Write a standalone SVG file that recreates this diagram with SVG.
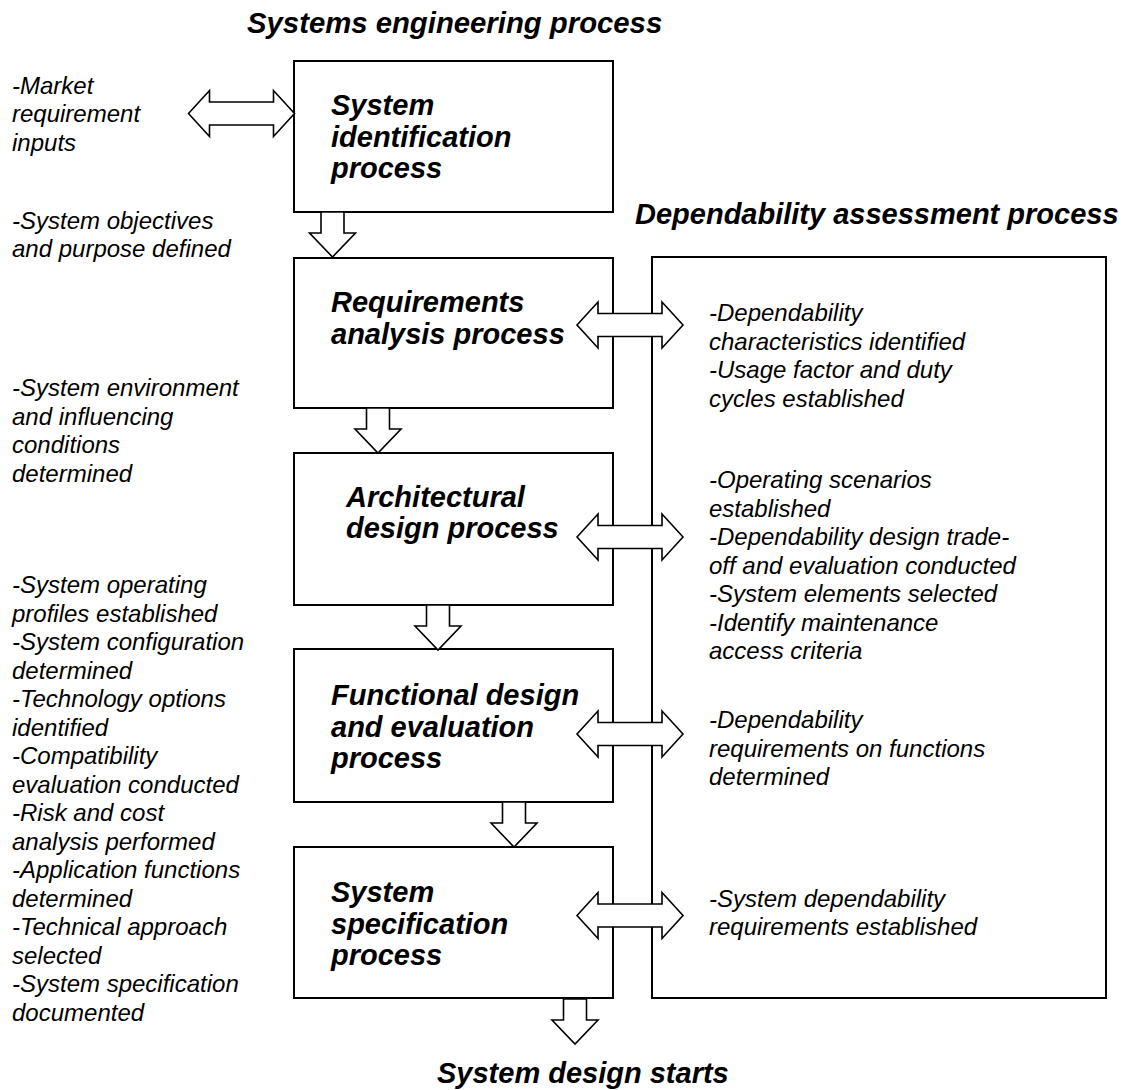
<svg xmlns="http://www.w3.org/2000/svg" xmlns:xlink="http://www.w3.org/1999/xlink" width="1127" height="1090" viewBox="0 0 1127 1090">
<style>
.box{fill:#fff;stroke:#000;stroke-width:2}
.arr{fill:#fff;stroke:#000;stroke-width:1.6;stroke-linejoin:miter}
.title{font-family:"Liberation Sans",Arial,sans-serif;font-size:29px;font-weight:bold;font-style:italic;fill:#000}
.bt{font-family:"Liberation Sans",Arial,sans-serif;font-size:29px;font-weight:bold;font-style:italic;fill:#000}
.note{font-family:"Liberation Sans",Arial,sans-serif;font-size:24px;font-style:italic;fill:#000}
</style>
<defs>
<path id="dbl" d="M0,0 L21,-23 V-11.5 H85 V-23 L106,0 L85,23 V11.5 H21 V23 Z"/>
<path id="down" d="M-11.5,0 V21 H-23 L0,45 L23,21 H11.5 V0 Z"/>
</defs>
<rect width="1127" height="1090" fill="#fff"/>

<text class="title" x="247" y="33" style="font-size:29.3px">Systems engineering process</text>
<text class="title" x="635" y="223.5">Dependability assessment process</text>
<text class="title" x="437" y="1083">System design starts</text>

<g id="dependability-box">
<rect class="box" x="652" y="257" width="454" height="741"/>
</g>

<g id="system-identification">
<rect class="box" x="294" y="61" width="319" height="151"/>
<text class="bt"><tspan x="331" y="115">System</tspan><tspan x="331" y="146.5">identification</tspan><tspan x="331" y="178">process</tspan></text>
</g>
<g id="requirements-analysis">
<rect class="box" x="294" y="258" width="319" height="150"/>
<text class="bt"><tspan x="331" y="312">Requirements</tspan><tspan x="331" y="343.5">analysis process</tspan></text>
</g>
<g id="architectural-design">
<rect class="box" x="294" y="453" width="319" height="152"/>
<text class="bt"><tspan x="346" y="507">Architectural</tspan><tspan x="346" y="538">design process</tspan></text>
</g>
<g id="functional-design">
<rect class="box" x="294" y="649" width="319" height="153"/>
<text class="bt"><tspan x="331" y="705">Functional design</tspan><tspan x="331" y="737">and evaluation</tspan><tspan x="331" y="768">process</tspan></text>
</g>
<g id="system-specification">
<rect class="box" x="294" y="847" width="319" height="151"/>
<text class="bt"><tspan x="331" y="902">System</tspan><tspan x="331" y="933.5">specification</tspan><tspan x="331" y="965">process</tspan></text>
</g>

<g id="connectors">
<use xlink:href="#dbl" class="arr" transform="translate(188.5,113.5)"/>
<use xlink:href="#down" class="arr" transform="translate(332.5,212)"/>
<use xlink:href="#down" class="arr" transform="translate(378,408)"/>
<use xlink:href="#down" class="arr" transform="translate(438,605)"/>
<use xlink:href="#down" class="arr" transform="translate(514,802)"/>
<use xlink:href="#down" class="arr" transform="translate(575,999)"/>
<use xlink:href="#dbl" class="arr" transform="translate(577,325)"/>
<use xlink:href="#dbl" class="arr" transform="translate(577,537)"/>
<use xlink:href="#dbl" class="arr" transform="translate(577,734)"/>
<use xlink:href="#dbl" class="arr" transform="translate(577,915.5)"/>
</g>

<g id="notes-left">
<text class="note"><tspan x="12" y="93.5">-Market</tspan><tspan x="12" y="122">requirement</tspan><tspan x="12" y="150.5">inputs</tspan></text>
<text class="note"><tspan x="12" y="228.5">-System objectives</tspan><tspan x="12" y="257">and purpose defined</tspan></text>
<text class="note"><tspan x="12" y="396">-System environment</tspan><tspan x="12" y="424.5">and influencing</tspan><tspan x="12" y="453">conditions</tspan><tspan x="12" y="481.5">determined</tspan></text>
<text class="note"><tspan x="12" y="593">-System operating</tspan><tspan x="12" y="621.5">profiles established</tspan><tspan x="12" y="650">-System configuration</tspan><tspan x="12" y="678.5">determined</tspan><tspan x="12" y="707">-Technology options</tspan><tspan x="12" y="735.5">identified</tspan><tspan x="12" y="764">-Compatibility</tspan><tspan x="12" y="792.5">evaluation conducted</tspan><tspan x="12" y="821">-Risk and cost</tspan><tspan x="12" y="849.5">analysis performed</tspan><tspan x="12" y="878">-Application functions</tspan><tspan x="12" y="906.5">determined</tspan><tspan x="12" y="935">-Technical approach</tspan><tspan x="12" y="963.5">selected</tspan><tspan x="12" y="992">-System specification</tspan><tspan x="12" y="1020.5">documented</tspan></text>
</g>

<g id="notes-right">
<text class="note"><tspan x="709" y="321">-Dependability</tspan><tspan x="709" y="349.5">characteristics identified</tspan><tspan x="709" y="378">-Usage factor and duty</tspan><tspan x="709" y="406.5">cycles established</tspan></text>
<text class="note"><tspan x="709" y="488">-Operating scenarios</tspan><tspan x="709" y="516.5">established</tspan><tspan x="709" y="545">-Dependability design trade-</tspan><tspan x="709" y="573.5">off and evaluation conducted</tspan><tspan x="709" y="602">-System elements selected</tspan><tspan x="709" y="630.5">-Identify maintenance</tspan><tspan x="709" y="659">access criteria</tspan></text>
<text class="note"><tspan x="709" y="728">-Dependability</tspan><tspan x="709" y="756.5">requirements on functions</tspan><tspan x="709" y="785">determined</tspan></text>
<text class="note"><tspan x="709" y="906.5">-System dependability</tspan><tspan x="709" y="935">requirements established</tspan></text>
</g>
</svg>
